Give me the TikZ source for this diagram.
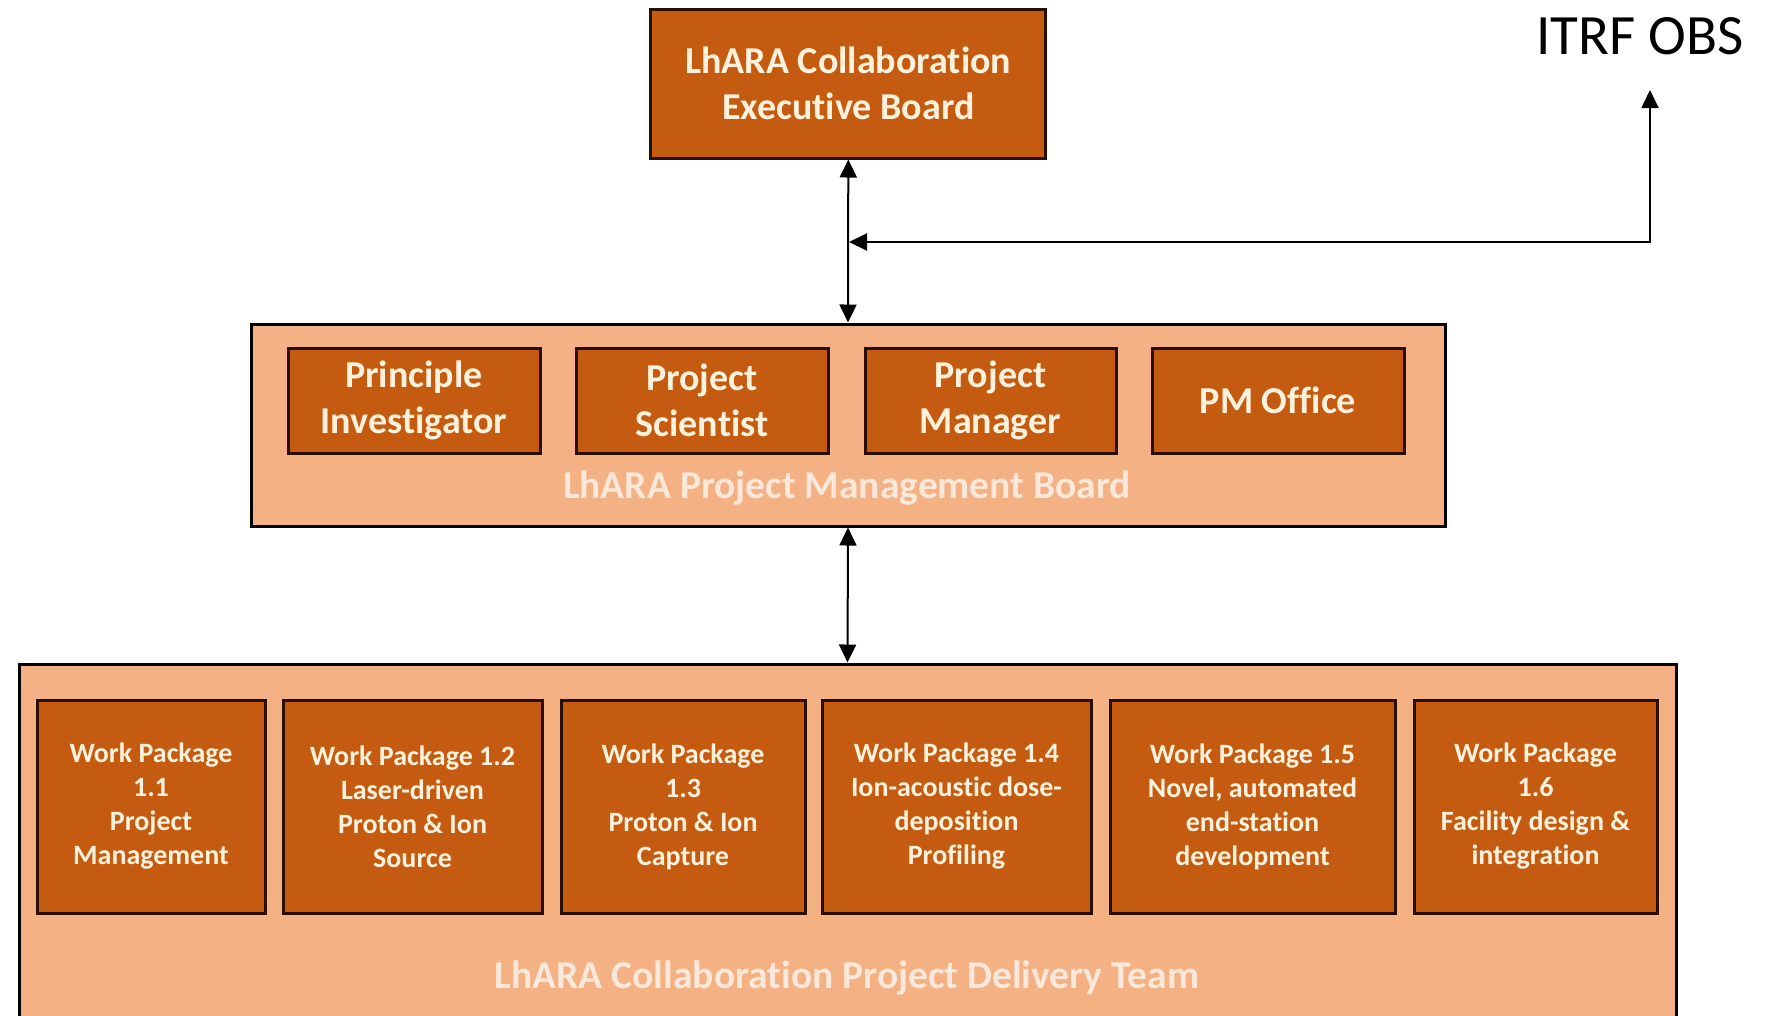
\documentclass[tikz,border=0pt]{standalone}
\usepackage{fontspec}
\setmainfont{Carlito}[Ligatures=NoCommon]
\usetikzlibrary{arrows.meta}
\definecolor{darkor}{HTML}{C55A11}
\definecolor{lightor}{HTML}{F4B183}
\definecolor{cream}{HTML}{FFF2DC}
\definecolor{palelbl}{HTML}{FCE8DA}
\definecolor{boxedge}{HTML}{2A0E00}
\tikzset{
  outerbox/.style={draw=black, line width=3pt, fill=lightor, inner sep=0pt},
  bigbox/.style={draw=boxedge, line width=3pt, fill=darkor, text=cream, align=center, inner sep=0pt,
    font=\fontsize{38}{46}\selectfont\bfseries},
  wpbox/.style={draw=boxedge, line width=3pt, fill=darkor, text=cream, align=center, inner sep=0pt,
    minimum height=213pt, font=\fontsize{28}{34}\selectfont\bfseries},
  boardlbl/.style={text=palelbl, inner sep=0pt, font=\fontsize{39.5}{48}\selectfont\bfseries},
  link/.style={line width=2pt, {Triangle[length=18pt,width=17pt]}-{Triangle[length=18pt,width=17pt]}}
}
\begin{document}
\begin{tikzpicture}[x=1pt,y=-1pt]
\clip (0,0) rectangle (1771,1015);
\fill[white] (0,0) rectangle (1771,1015);

% Executive board
\node[bigbox, minimum width=395pt, minimum height=149pt] (exec) at (848.3,83.5)
  {LhARA Collaboration\\Executive Board};

% ITRF OBS
\node[anchor=base, inner sep=0pt, font=\fontsize{57}{68}\selectfont] (itrf) at (1640,54) {ITRF OBS};
\coordinate (obsin) at (1650,90);
\coordinate (junc) at (849,242);

% Project Management Board
\node[outerbox, minimum width=1194pt, minimum height=202pt] (pmb) at (848,425) {};
\node[bigbox, minimum width=252pt, minimum height=105pt] (pi) at (414,400.5) {\rule{0pt}{0pt}Principle\\Investigator};
\node[bigbox, minimum width=252pt, minimum height=105pt] (ps) at (702,400.5) {Project\\Scientist};
\node[bigbox, minimum width=251pt, minimum height=105pt] (pm) at (990.5,400.5) {Project\\Manager};
\node[bigbox, minimum width=252pt, minimum height=105pt] (pmo) at (1278,400.5) {PM Office};
\node[boardlbl] (pmblbl) at (847,488) {LhARA Project Management Board};

% Project Delivery Team
\node[outerbox, minimum width=1657pt, minimum height=361pt] (pdt) at (847.5,844.5) {};
\node[wpbox, minimum width=228pt] (wp1) at (151,806.5) {Work Package\\1.1\\Project\\Management};
\node[wpbox, minimum width=259pt] (wp2) at (412.5,806.5) {Work Package 1.2\\Laser-driven\\Proton \& Ion\\Source};
\node[wpbox, minimum width=244pt] (wp3) at (683,806.5) {Work Package\\1.3\\Proton \& Ion\\Capture};
\node[wpbox, minimum width=269pt] (wp4) at (956.5,806.5) {Work Package 1.4\\Ion-acoustic dose-\\deposition\\Profiling};
\node[wpbox, minimum width=285pt] (wp5) at (1252.5,806.5) {Work Package 1.5\\Novel, automated\\end-station\\development};
\node[wpbox, minimum width=243pt] (wp6) at (1535.5,806.5) {Work Package\\1.6\\Facility design \&\\integration};
\node[boardlbl] (pdtlbl) at (847,978) {LhARA Collaboration Project Delivery Team};

% Connectors
\draw[link] (exec.south) -- (pmb.north);
\draw[link] (junc) -| (obsin);
\draw[link] (pmb.south) -- (pdt.north);
\end{tikzpicture}
\end{document}
